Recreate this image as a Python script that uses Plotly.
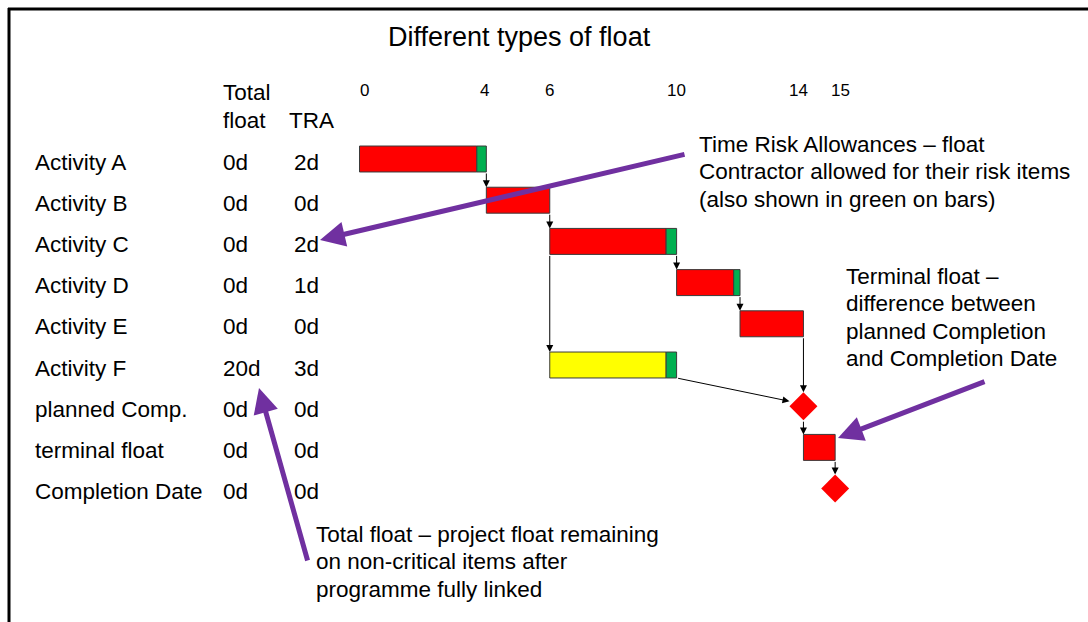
import plotly.graph_objects as go

# ---------------- data ----------------
activities = ["Activity A", "Activity B", "Activity C", "Activity D", "Activity E",
              "Activity F", "planned Comp.", "terminal float", "Completion Date"]
total_float = ["0d", "0d", "0d", "0d", "0d", "20d", "0d", "0d", "0d"]
tra_labels = ["2d", "0d", "2d", "1d", "0d", "3d", "0d", "0d", "0d"]
starts = [0, 4, 6, 10, 12, 6, 14, 14, 15]
finishes = [4, 6, 10, 12, 14, 10, 14, 15, 15]
tra_shown = [0.3, 0, 0.33, 0.2, 0, 0.33, 0, 0, 0]   # green TRA portion drawn on bars (days)
critical = [True, True, True, True, True, False, True, True, True]
tick_values = [0, 4, 6, 10, 14, 15]
# (from row, to row, link type)
links = [(0, 1, "FS"), (1, 2, "FS"), (2, 5, "SS"), (2, 3, "FS"), (3, 4, "FS"),
         (4, 6, "FS"), (5, 6, "FS"), (6, 7, "FS"), (7, 8, "FS")]

# ---------------- styling ----------------
W, H = 1088, 622
FONT = "Liberation Sans, Arial, sans-serif"
RED, YELLOW, GREEN, PURPLE = "#FF0000", "#FFFF00", "#00B050", "#7030A0"
BAR_W = 0.63
DIA_SIZE = 21.5
DIA_HX = 0.44   # half width of diamond in days
DIA_HY = 0.34   # half height of diamond in rows
BODY = 22.5

X0, XS = 359.5, 31.71           # pixel of day 0, pixels per day
Y0, YS = 159.0, 41.2            # pixel of row 0, pixels per row
x_range = [-X0 / XS, (W - X0) / XS]
y_range = [(H - Y0) / YS, -Y0 / YS]

rows = list(range(len(activities)))
milestone = [s == f for s, f in zip(starts, finishes)]

fig = go.Figure()

line_style = dict(color="#3a3a3a", width=1)

def add_bars(idx, base, length, color):
    fig.add_trace(go.Bar(
        orientation="h", y=[rows[i] for i in idx], x=length, base=base,
        width=BAR_W, marker=dict(color=color, line=line_style),
        showlegend=False, hoverinfo="skip"))

red_i = [i for i in rows if not milestone[i] and critical[i]]
add_bars(red_i, [starts[i] for i in red_i],
         [finishes[i] - starts[i] - tra_shown[i] for i in red_i], RED)
yel_i = [i for i in rows if not milestone[i] and not critical[i]]
add_bars(yel_i, [starts[i] for i in yel_i],
         [finishes[i] - starts[i] - tra_shown[i] for i in yel_i], YELLOW)
grn_i = [i for i in rows if tra_shown[i] > 0]
add_bars(grn_i, [finishes[i] - tra_shown[i] for i in grn_i],
         [tra_shown[i] for i in grn_i], GREEN)

ms_i = [i for i in rows if milestone[i]]
fig.add_trace(go.Scatter(
    x=[starts[i] for i in ms_i], y=[rows[i] for i in ms_i], mode="markers",
    marker=dict(symbol="diamond", size=DIA_SIZE, color=RED, line=dict(width=0)),
    showlegend=False, hoverinfo="skip"))

annotations = []

# link arrows
for a, b, kind in links:
    xa = finishes[a] if kind == "FS" else starts[a]
    xb = starts[b]
    ya = rows[a] + (DIA_HY if milestone[a] else BAR_W / 2)
    if xa == xb:
        hx = xb
        hy = rows[b] - (DIA_HY if milestone[b] else BAR_W / 2)
    else:
        hx = xb - DIA_HX
        hy = rows[b] - 0.12
    annotations.append(dict(
        x=hx, y=hy, ax=xa, ay=ya, xref="x", yref="y", axref="x", ayref="y",
        text="", showarrow=True, arrowhead=2, arrowsize=1.4, arrowwidth=1,
        arrowcolor="black", standoff=0))

def px_x(p):
    return p / W

def px_y(p):
    return 1 - p / H

def txt(text, x, y, size=BODY, xanchor="left"):
    annotations.append(dict(
        text=text, x=px_x(x), y=px_y(y), xref="paper", yref="paper",
        xanchor=xanchor, yanchor="middle", showarrow=False,
        font=dict(family=FONT, size=size, color="black")))

# title
txt("Different types of float", 519, 37, size=27, xanchor="center")

# time scale labels (slight nudges as in the original slide)
tick_nudge = {0: 5, 4: -2, 14: -5, 15: 5}
for v in tick_values:
    annotations.append(dict(
        text=str(v), x=v, y=px_y(90), xref="x", yref="paper", xanchor="center",
        yanchor="middle", showarrow=False, xshift=tick_nudge.get(v, 0),
        font=dict(family=FONT, size=17, color="black")))

# column headers
txt("Total", 221, 93)
txt("float", 221, 121)
txt("TRA", 287, 121)

# table rows
for i in rows:
    for text, x in ((activities[i], 33), (total_float[i], 221), (tra_labels[i], 292)):
        annotations.append(dict(
            text=text, x=px_x(x), y=rows[i], xref="paper", yref="y",
            xanchor="left", yanchor="middle", yshift=-3, showarrow=False,
            font=dict(family=FONT, size=BODY, color="black")))

# explanatory notes
for k, line in enumerate(["Time Risk Allowances \u2013 float",
                          "Contractor allowed for their risk items",
                          "(also shown in green on bars)"]):
    txt(line, 697, 144 + 27.5 * k)
for k, line in enumerate(["Terminal float \u2013", "difference between",
                          "planned Completion", "and Completion Date"]):
    txt(line, 844, 276 + 27.5 * k)
for k, line in enumerate(["Total float \u2013 project float remaining",
                          "on non-critical items after",
                          "programme fully linked"]):
    txt(line, 314, 534 + 27.5 * k)

# purple pointer arrows (head pixel, tail pixel)
for (hx, hy), (tx, ty) in [((320, 240), (686, 154)),
                           ((838, 438), (986, 381)),
                           ((259, 388), (308, 562))]:
    annotations.append(dict(
        x=px_x(hx), y=px_y(hy), xref="paper", yref="paper",
        ax=tx - hx, ay=ty - hy, text="", showarrow=True, arrowhead=2,
        arrowsize=1, arrowwidth=5, arrowcolor=PURPLE, standoff=0))

# frame lines
shapes = [
    dict(type="line", xref="paper", yref="paper", x0=px_x(9), x1=px_x(9),
         y0=px_y(8), y1=0, line=dict(color="black", width=3)),
    dict(type="line", xref="paper", yref="paper", x0=px_x(8), x1=1,
         y0=px_y(9), y1=px_y(9), line=dict(color="black", width=3)),
]

fig.update_layout(
    width=W, height=H, margin=dict(l=0, r=0, t=0, b=0),
    paper_bgcolor="white", plot_bgcolor="white", barmode="overlay",
    xaxis=dict(range=x_range, visible=False, fixedrange=True),
    yaxis=dict(range=y_range, visible=False, fixedrange=True),
    annotations=annotations, shapes=shapes, showlegend=False,
    hovermode=False)

fig.write_html("out.html", config={"displayModeBar": False},
               post_script="document.body.style.margin='0px';document.body.style.overflow='hidden';")
